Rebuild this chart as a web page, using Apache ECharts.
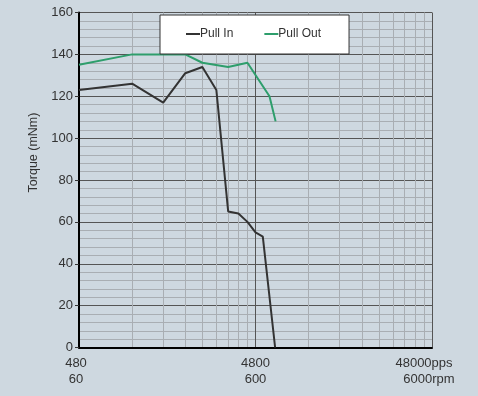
<!DOCTYPE html>
<html>
<head>
<meta charset="utf-8">
<script src="https://cdn.jsdelivr.net/npm/echarts@6/dist/echarts.min.js"></script>
<style>
html,body{margin:0;padding:0;background:#ced8e0;}
#chart{width:478px;height:396px;}
</style>
</head>
<body>
<div id="chart"></div>
<script>
// ---- data ----
var seriesNames = ['Pull In', 'Pull Out'];
var seriesColors = ['#333333', '#2e9e6c'];
var pullInFreq   = [480, 960, 1440, 1920, 2400, 2880, 3360, 3840, 4320, 4800, 5280, 6200];
var pullInTorque = [123, 126, 117, 131, 134, 123, 65, 64, 60, 55, 53, 0];
var pullOutFreq   = [480, 960, 1920, 2400, 3360, 4320, 5760, 6240];
var pullOutTorque = [135, 140, 140, 136, 134, 136, 120, 108];

var xTickValues = [480, 4800, 48000];
var xTickPps = ['480', '4800', '48000pps'];
var xTickRpm = ['60', '600', '6000rpm'];
var xGridValues = [480, 960, 1440, 1920, 2400, 2880, 3360, 3840, 4320, 4800,
                   9600, 14400, 19200, 24000, 28800, 33600, 38400, 43200, 48000];
var yMin = 0, yMax = 160, yStep = 20;
var yName = 'Torque (mNm)';

function pairs(xs, ys) { return xs.map(function (x, i) { return [x, ys[i]]; }); }

var FONT = '"Liberation Sans", Arial, Helvetica, sans-serif';
var chart = echarts.init(document.getElementById('chart'), null, {renderer: 'canvas'});

chart.setOption({
  animation: false,
  backgroundColor: '#ced8e0',
  textStyle: {fontFamily: FONT},
  grid: {left: 79, top: 12.5, right: 46, bottom: 48.5, containLabel: false},
  legend: {
    data: seriesNames,
    left: 160, top: 15,
    padding: [13, 28, 14, 21],
    itemGap: 26, itemWidth: 0, itemHeight: 0,
    icon: 'rect',
    itemStyle: {opacity: 0},
    backgroundColor: '#ffffff',
    borderColor: '#333333', borderWidth: 1, borderRadius: 0,
    formatter: function (name) {
      var i = seriesNames.indexOf(name);
      return '{k' + i + '|}' + '{t|' + name + '}';
    },
    textStyle: {
      fontSize: 12, color: '#333333', fontFamily: FONT,
      rich: {
        k0: {width: 14, height: 2, backgroundColor: seriesColors[0]},
        k1: {width: 14, height: 2, backgroundColor: seriesColors[1]},
        t: {fontSize: 12, color: '#333333', fontFamily: FONT, lineHeight: 14}
      }
    }
  },
  xAxis: {
    type: 'log', logBase: 10, min: 480, max: 48000,
    axisLine: {show: true, onZero: false, lineStyle: {color: '#000000', width: 2}},
    axisTick: {show: false, customValues: xGridValues},
    splitLine: {show: true, lineStyle: {width: 1,
      color: ['#555555', '#a9aeb3', '#a9aeb3', '#a9aeb3', '#a9aeb3', '#a9aeb3', '#a9aeb3', '#a9aeb3', '#a9aeb3']}},
    axisLabel: {
      customValues: xTickValues,
      margin: 8,
      color: '#333333', fontSize: 13, fontFamily: FONT,
      formatter: function (v) {
        var best = 0;
        for (var i = 0; i < xTickValues.length; i++) {
          if (Math.abs(Math.log(xTickValues[i] / v)) < Math.abs(Math.log(xTickValues[best] / v))) best = i;
        }
        if (best === 0) return '{f|' + xTickPps[best] + '}\n{f|' + xTickRpm[best] + '}';
        if (best === xTickValues.length - 1) return '{a|' + xTickPps[best] + '}\n{b|' + xTickRpm[best] + '}';
        return '{m|' + xTickPps[best] + '}\n{m|' + xTickRpm[best] + '}';
      },
      rich: {
        f: {fontSize: 13, lineHeight: 16, color: '#333333', fontFamily: FONT, padding: [0, 6, 0, 0]},
        m: {fontSize: 13, lineHeight: 16, color: '#333333', fontFamily: FONT},
        a: {fontSize: 13, lineHeight: 16, color: '#333333', fontFamily: FONT, padding: [0, 16, 0, 0]},
        b: {fontSize: 13, lineHeight: 16, color: '#333333', fontFamily: FONT, padding: [0, 6, 0, 0]}
      }
    }
  },
  yAxis: {
    type: 'value', min: yMin, max: yMax, interval: yStep,
    name: yName, nameLocation: 'middle', nameGap: 33,
    nameTextStyle: {fontSize: 12.5, color: '#333333', fontFamily: FONT, padding: [0, 0, 0, 55]},
    axisLine: {show: true, lineStyle: {color: '#000000', width: 2}},
    axisTick: {show: true, length: 4, lineStyle: {color: '#333333'}},
    axisLabel: {margin: 6, color: '#333333', fontSize: 13, fontFamily: FONT},
    splitLine: {show: true, lineStyle: {color: '#555555', width: 1}},
    minorTick: {show: false, splitNumber: 5},
    minorSplitLine: {show: true, lineStyle: {color: '#a9aeb3', width: 1}}
  },
  series: [
    {
      name: seriesNames[0], type: 'line', symbol: 'none',
      data: pairs(pullInFreq, pullInTorque),
      lineStyle: {color: seriesColors[0], width: 2},
      itemStyle: {color: seriesColors[0]}
    },
    {
      name: seriesNames[1], type: 'line', symbol: 'none',
      data: pairs(pullOutFreq, pullOutTorque),
      lineStyle: {color: seriesColors[1], width: 2},
      itemStyle: {color: seriesColors[1]}
    }
  ]
});
</script>
</body>
</html>
